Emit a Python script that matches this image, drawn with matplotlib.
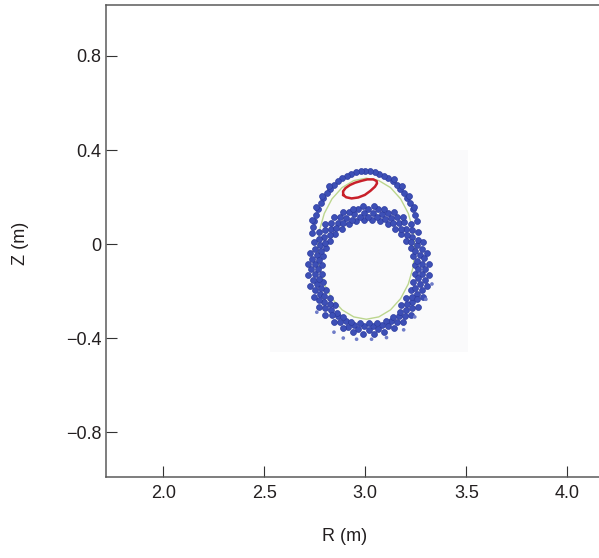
import matplotlib
matplotlib.use("Agg")
import matplotlib.pyplot as plt
from matplotlib.patches import Rectangle

plt.rcParams['font.family'] = ['Liberation Sans', 'DejaVu Sans']

# lower ring of lost particles (thick band), several rows
ring_R = [
    # middle row
    3.279, 3.271, 3.255, 3.232, 3.202, 3.167, 3.127, 3.084, 3.038, 2.992, 2.946, 2.903,
    2.863, 2.828, 2.798, 2.775, 2.759, 2.751, 2.751, 2.759, 2.775, 2.798, 2.828, 2.863,
    2.903, 2.946, 2.992, 3.038, 3.084, 3.127, 3.167, 3.202, 3.232, 3.255, 3.271, 3.279,
    # inner row
    3.245, 3.238, 3.224, 3.204, 3.178, 3.147, 3.113, 3.075, 3.035, 2.995, 2.955, 2.918,
    2.883, 2.852, 2.826, 2.806, 2.792, 2.785, 2.785, 2.792, 2.806, 2.826, 2.852,
    3.178, 3.204, 3.224, 3.238, 3.245,
    # row between inner and middle
    3.263, 3.257, 3.248, 3.228, 3.205, 3.176, 3.139, 3.098, 3.058, 3.013, 2.972, 2.932,
    2.891, 2.854, 2.825, 2.802, 2.782, 2.769, 2.767, 2.773, 2.782, 2.798, 2.825, 2.858,
    2.891, 2.928, 2.972, 3.017, 3.058, 3.102, 3.139, 3.172, 3.205, 3.232, 3.248, 3.261,
    # row between middle and outer
    3.297, 3.291, 3.280, 3.261, 3.231, 3.194, 3.156, 3.114, 3.064, 3.013, 2.966, 2.920,
    2.874, 2.832, 2.799, 2.773, 2.750, 2.735, 2.733, 2.739, 2.750, 2.769, 2.799, 2.836,
    2.874, 2.916, 2.966, 3.017, 3.064, 3.110, 3.156, 3.198, 3.231, 3.257, 3.280, 3.295,
    # outer row
    3.313, 3.304, 3.286, 3.260, 3.227, 3.187, 3.142, 3.093, 3.041, 2.989, 2.937, 2.888,
    2.843, 2.803, 2.770, 2.744, 2.726, 2.717, 2.717, 2.726, 2.744, 2.770, 2.803, 2.843,
    2.888, 2.937, 2.989, 3.041, 3.093, 3.142, 3.187, 3.227, 3.260, 3.286, 3.304, 3.313,
]
ring_Z = [
    -0.087, -0.045, -0.005, 0.032, 0.064, 0.091, 0.112, 0.127, 0.134, 0.134, 0.127, 0.112,
    0.091, 0.064, 0.032, -0.005, -0.045, -0.087, -0.129, -0.171, -0.211, -0.248, -0.280, -0.307,
    -0.328, -0.343, -0.350, -0.350, -0.343, -0.328, -0.307, -0.280, -0.248, -0.211, -0.171, -0.129,
    -0.090, -0.053, -0.019, 0.013, 0.042, 0.065, 0.084, 0.096, 0.103, 0.103, 0.096, 0.084,
    0.065, 0.042, 0.013, -0.019, -0.053, -0.090, -0.126, -0.163, -0.197, -0.229, -0.258,
    -0.258, -0.229, -0.197, -0.163, -0.126,
    -0.108, -0.071, -0.030, 0.008, 0.038, 0.064, 0.089, 0.108, 0.116, 0.117, 0.116, 0.104,
    0.089, 0.068, 0.038, 0.004, -0.030, -0.067, -0.108, -0.149, -0.186, -0.220, -0.254, -0.292,
    -0.312, -0.330, -0.336, -0.338, -0.336, -0.326, -0.312, -0.288, -0.254, -0.224, -0.186, -0.145,
    -0.108, -0.061, -0.020, 0.019, 0.058, 0.092, 0.116, 0.133, 0.147, 0.149, 0.147, 0.137,
    0.116, 0.088, 0.058, 0.023, -0.020, -0.065, -0.108, -0.151, -0.196, -0.239, -0.274, -0.304,
    -0.332, -0.353, -0.363, -0.365, -0.363, -0.349, -0.332, -0.308, -0.274, -0.235, -0.196, -0.155,
    -0.084, -0.037, 0.008, 0.050, 0.086, 0.113, 0.135, 0.151, 0.160, 0.160, 0.151, 0.135,
    0.113, 0.086, 0.050, 0.008, -0.037, -0.084, -0.132, -0.179, -0.224, -0.266, -0.302, -0.333,
    -0.357, -0.373, -0.382, -0.382, -0.373, -0.357, -0.333, -0.302, -0.266, -0.224, -0.179, -0.132,
]

# thin upper arc of particles
arc_R = [3.254, 3.245, 3.234, 3.221, 3.207, 3.191, 3.174, 3.155, 3.135, 3.114, 3.092,
         3.070, 3.047, 3.023, 3.000, 2.977, 2.953, 2.930, 2.908, 2.886, 2.865, 2.845,
         2.826, 2.809, 2.793, 2.779, 2.766, 2.755, 2.746, 2.739, 2.734,
         3.243, 3.215, 3.181, 3.141, 2.819, 2.785, 2.757, 2.736]
arc_Z = [0.099, 0.125, 0.150, 0.174, 0.196, 0.216, 0.235, 0.252, 0.267, 0.280, 0.291,
         0.299, 0.305, 0.309, 0.310, 0.309, 0.305, 0.299, 0.291, 0.280, 0.267, 0.252,
         0.235, 0.216, 0.196, 0.174, 0.150, 0.125, 0.099, 0.073, 0.046,
         0.157, 0.204, 0.245, 0.278, 0.245, 0.204, 0.157, 0.104]

# scattered particles outside the band
stray_R = [2.891, 2.957, 3.031, 3.105, 2.845, 3.190, 3.245, 3.300, 2.760, 3.330]
stray_Z = [-0.400, -0.405, -0.405, -0.398, -0.375, -0.365, -0.310, -0.235, -0.290, -0.170]

# last closed flux surface (green)
lcfs_R = [3.245, 3.237, 3.213, 3.175, 3.125, 3.067, 3.005, 2.943, 2.885, 2.835, 2.797,
          2.773, 2.765, 2.773, 2.797, 2.835, 2.885, 2.943, 3.005, 3.067, 3.125, 3.175,
          3.213, 3.237, 3.245]
lcfs_Z = [-0.020, 0.058, 0.130, 0.192, 0.240, 0.270, 0.280, 0.270, 0.240, 0.192, 0.130,
          0.058, -0.020, -0.098, -0.170, -0.232, -0.280, -0.310, -0.320, -0.310, -0.280,
          -0.232, -0.170, -0.098, -0.020]

# red contour
red_R = [2.891, 2.905, 2.932, 2.965, 2.998, 3.025, 3.048, 3.058, 3.056, 3.040, 3.010,
         2.982, 2.950, 2.924, 2.902, 2.890, 2.891]
red_Z = [0.209, 0.199, 0.194, 0.198, 0.209, 0.226, 0.244, 0.258, 0.268, 0.275, 0.275,
         0.269, 0.261, 0.251, 0.238, 0.224, 0.209]

# faint background of the pasted inset (R0, R1, Z0, Z1)
inset_box = [2.53, 3.51, -0.46, 0.40]

xticks = [2.0, 2.5, 3.0, 3.5, 4.0]
xlabels = ['2.0', '2.5', '3.0', '3.5', '4.0']
yticks = [-0.8, -0.4, 0.0, 0.4, 0.8]
ylabels = ['\u22120.8', '\u22120.4', '0', '0.4', '0.8']

fig = plt.figure(figsize=(5.99, 5.58), dpi=100)
ax = fig.add_axes([0.1765, 0.1452, 0.8235, 0.8459])

ax.add_patch(Rectangle((inset_box[0], inset_box[2]), inset_box[1] - inset_box[0],
                       inset_box[3] - inset_box[2], facecolor='#fafafb',
                       edgecolor='none', zorder=0))

ax.plot(lcfs_R, lcfs_Z, color='#bcd68e', lw=1.0, zorder=1)
dot = dict(s=18, facecolor='#3d4fb6', edgecolor='#2c3b9f', linewidths=0.5, zorder=2)
ax.scatter(ring_R, ring_Z, **dot)
ax.scatter(arc_R, arc_Z, **dot)
ax.scatter(stray_R, stray_Z, s=7, facecolor='#6f7cc8', edgecolor='none', zorder=2)
ax.plot(red_R, red_Z, color='#c8202a', lw=1.8, zorder=3)

ax.set_xlim(1.715, 4.157)
ax.set_ylim(-0.991, 1.017)
ax.set_xticks(xticks)
ax.set_xticklabels(xlabels)
ax.set_yticks(yticks)
ax.set_yticklabels(ylabels)

for side in ['left', 'top', 'bottom']:
    ax.spines[side].set_color('#5a5a5a')
    ax.spines[side].set_linewidth(1.1)
ax.spines['right'].set_visible(False)

ax.tick_params(direction='in', length=8, width=0.8, color='#333333',
               labelsize=13, labelcolor='#231f20')
ax.tick_params(axis='x', pad=6)
ax.tick_params(axis='y', pad=3)

ax.set_xlabel('R (m)', fontsize=13, color='#231f20')
ax.set_ylabel('Z (m)', fontsize=13, color='#231f20')
ax.xaxis.set_label_coords(0.485, -0.108)
ax.yaxis.set_label_coords(-0.155, 0.494)

fig.savefig('out.png', dpi=100)
